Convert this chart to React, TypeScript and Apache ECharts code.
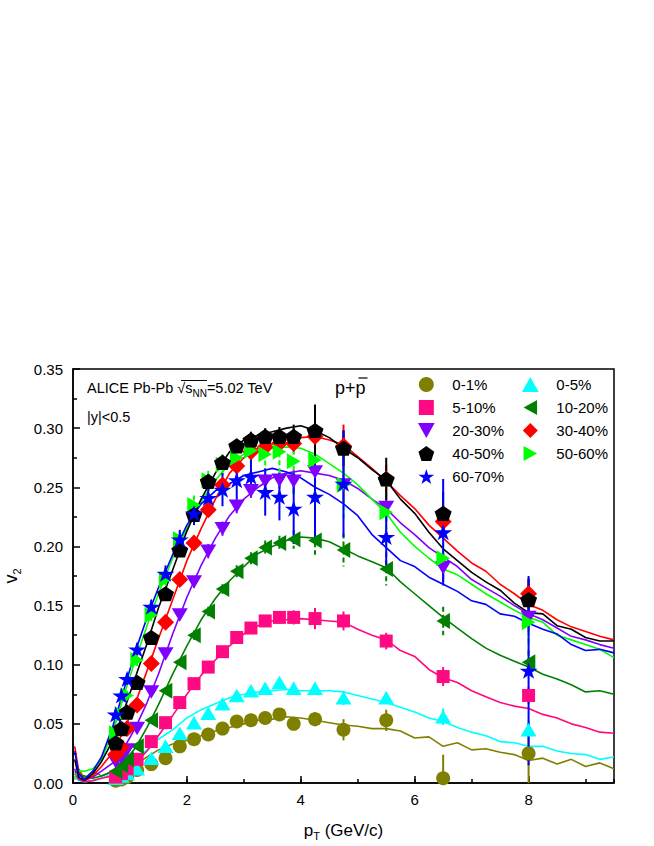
import React, { useEffect, useRef } from "react";
import * as echarts from "echarts";

const FONT = "'Liberation Sans', Arial, sans-serif";

// pT bin centres of the measured points
const BINS = [0.75, 0.85, 0.95, 1.125, 1.375, 1.625, 1.875, 2.125, 2.375, 2.625, 2.875, 3.125, 3.375, 3.625, 3.875, 4.25, 4.75, 5.5, 6.5, 8.0];

// measured v2 values
const V_0_1 = [0.002, 0.003, 0.005, 0.011, 0.016, 0.021, 0.031, 0.037, 0.041, 0.046, 0.052, 0.053, 0.055, 0.058, 0.05, 0.054, 0.045, 0.053, 0.004, 0.025];
const E_0_1 = [0.002, 0.002, 0.002, 0.002, 0.002, 0.002, 0.002, 0.002, 0.002, 0.003, 0.003, 0.003, 0.004, 0.005, 0.005, 0.006, 0.009, 0.009, 0.02, 0.025];
const V_0_5 = [0.004, 0.006, 0.008, 0.012, 0.021, 0.031, 0.042, 0.051, 0.059, 0.067, 0.074, 0.078, 0.08, 0.085, 0.08, 0.08, 0.072, 0.072, 0.056, 0.045];
const E_0_5 = [0.002, 0.002, 0.002, 0.002, 0.002, 0.002, 0.003, 0.003, 0.003, 0.003, 0.003, 0.004, 0.004, 0.004, 0.005, 0.005, 0.006, 0.005, 0.007, 0.008];
const V_5_10 = [0.005, 0.008, 0.012, 0.02, 0.035, 0.051, 0.068, 0.084, 0.098, 0.111, 0.123, 0.131, 0.137, 0.14, 0.14, 0.139, 0.137, 0.12, 0.09, 0.074];
const E_5_10 = [0.002, 0.002, 0.002, 0.002, 0.002, 0.002, 0.003, 0.003, 0.003, 0.003, 0.003, 0.004, 0.004, 0.005, 0.006, 0.009, 0.008, 0.007, 0.008, 0.007];
const V_10_20 = [0.01, 0.015, 0.02, 0.031, 0.053, 0.078, 0.102, 0.125, 0.145, 0.164, 0.179, 0.19, 0.199, 0.203, 0.206, 0.205, 0.197, 0.181, 0.137, 0.102];
const E_10_20 = [0.002, 0.002, 0.002, 0.003, 0.003, 0.003, 0.003, 0.004, 0.004, 0.004, 0.005, 0.005, 0.006, 0.006, 0.008, 0.012, 0.014, 0.014, 0.012, 0.01];
const V_20_30 = [0.018, 0.022, 0.028, 0.046, 0.077, 0.109, 0.142, 0.17, 0.196, 0.215, 0.234, 0.247, 0.255, 0.256, 0.255, 0.263, 0.252, 0.233, 0.182, 0.14];
const E_20_30 = [0.002, 0.002, 0.003, 0.003, 0.003, 0.004, 0.004, 0.005, 0.006, 0.006, 0.006, 0.006, 0.006, 0.007, 0.01, 0.012, 0.015, 0.012, 0.012, 0.012];
const V_30_40 = [0.024, 0.03, 0.046, 0.066, 0.101, 0.136, 0.172, 0.203, 0.231, 0.252, 0.268, 0.28, 0.284, 0.287, 0.287, 0.293, 0.285, 0.257, 0.221, 0.16];
const E_30_40 = [0.002, 0.002, 0.003, 0.003, 0.003, 0.004, 0.004, 0.005, 0.005, 0.005, 0.006, 0.006, 0.006, 0.007, 0.008, 0.01, 0.018, 0.012, 0.012, 0.012];
const V_40_50 = [0.034, 0.046, 0.06, 0.085, 0.123, 0.16, 0.197, 0.227, 0.255, 0.271, 0.285, 0.29, 0.293, 0.293, 0.293, 0.298, 0.283, 0.257, 0.228, 0.155];
const E_40_50 = [0.003, 0.003, 0.003, 0.004, 0.004, 0.004, 0.005, 0.005, 0.006, 0.006, 0.006, 0.007, 0.007, 0.008, 0.01, 0.022, 0.015, 0.018, 0.018, 0.018];
const V_50_60 = [0.042, 0.058, 0.074, 0.104, 0.142, 0.172, 0.206, 0.235, 0.256, 0.269, 0.275, 0.281, 0.278, 0.28, 0.272, 0.273, 0.252, 0.229, 0.19, 0.136];
const E_50_60 = [0.004, 0.004, 0.004, 0.005, 0.005, 0.006, 0.007, 0.008, 0.008, 0.009, 0.01, 0.012, 0.015, 0.02, 0.03, 0.045, 0.03, 0.03, 0.02, 0.02];
const V_60_70 = [0.058, 0.074, 0.088, 0.113, 0.149, 0.177, 0.206, 0.228, 0.241, 0.248, 0.256, 0.259, 0.246, 0.242, 0.232, 0.242, 0.253, 0.208, 0.212, 0.095];
const E_60_70 = [0.004, 0.004, 0.005, 0.005, 0.006, 0.007, 0.008, 0.01, 0.012, 0.014, 0.016, 0.016, 0.02, 0.02, 0.03, 0.035, 0.045, 0.03, 0.045, 0.08];

// model curves
const CURVE_PT = [0.03, 0.1, 0.2, 0.35, 0.5, 0.7, 0.9, 1.1, 1.3, 1.5, 1.75, 2.0, 2.25, 2.5, 2.75, 3.0, 3.25, 3.5, 3.75, 4.0, 4.25, 4.5, 4.75, 5.0, 5.25, 5.5, 5.75, 6.0, 6.25, 6.5, 6.75, 7.0, 7.25, 7.5, 7.75, 8.0, 8.25, 8.5, 8.75, 9.0, 9.25, 9.5];
const M_0_1 = [0.003, 0.012, 0.004, 0.01, 0.006, 0.01, 0.012, 0.016, 0.022, 0.028, 0.033, 0.036, 0.04, 0.044, 0.047, 0.05, 0.053, 0.054, 0.056, 0.055, 0.053, 0.051, 0.049, 0.048, 0.046, 0.046, 0.044, 0.038, 0.039, 0.031, 0.034, 0.028, 0.029, 0.026, 0.024, 0.019, 0.021, 0.016, 0.02, 0.014, 0.017, 0.012];
const M_0_5 = [0.005, 0.002, 0.001, 0.002, 0.004, 0.008, 0.013, 0.02, 0.028, 0.037, 0.045, 0.055, 0.062, 0.067, 0.072, 0.075, 0.077, 0.078, 0.079, 0.078, 0.078, 0.078, 0.077, 0.074, 0.071, 0.068, 0.064, 0.06, 0.055, 0.052, 0.047, 0.043, 0.04, 0.035, 0.034, 0.031, 0.031, 0.027, 0.025, 0.024, 0.02, 0.022];
const M_5_10 = [0.008, 0.003, 0.001, 0.002, 0.004, 0.006, 0.01, 0.017, 0.027, 0.04, 0.057, 0.075, 0.091, 0.104, 0.116, 0.126, 0.133, 0.137, 0.138, 0.139, 0.138, 0.137, 0.136, 0.13, 0.125, 0.121, 0.112, 0.107, 0.096, 0.089, 0.085, 0.078, 0.073, 0.068, 0.065, 0.063, 0.058, 0.055, 0.05, 0.047, 0.043, 0.042];
const M_10_20 = [0.01, 0.006, 0.006, 0.004, 0.006, 0.01, 0.018, 0.03, 0.047, 0.066, 0.092, 0.116, 0.138, 0.156, 0.171, 0.183, 0.194, 0.2, 0.205, 0.208, 0.207, 0.204, 0.198, 0.192, 0.187, 0.182, 0.17, 0.16, 0.15, 0.14, 0.131, 0.122, 0.114, 0.108, 0.103, 0.098, 0.092, 0.088, 0.083, 0.077, 0.078, 0.075];
const M_20_30 = [0.012, 0.004, 0.002, 0.005, 0.01, 0.017, 0.03, 0.047, 0.068, 0.092, 0.126, 0.157, 0.184, 0.207, 0.226, 0.24, 0.25, 0.258, 0.262, 0.264, 0.262, 0.26, 0.256, 0.249, 0.24, 0.232, 0.22, 0.21, 0.199, 0.191, 0.183, 0.172, 0.165, 0.158, 0.15, 0.143, 0.138, 0.131, 0.124, 0.121, 0.117, 0.114];
const M_30_40 = [0.031, 0.01, 0.002, 0.006, 0.014, 0.026, 0.045, 0.068, 0.095, 0.122, 0.155, 0.188, 0.215, 0.24, 0.262, 0.275, 0.283, 0.287, 0.29, 0.292, 0.293, 0.29, 0.286, 0.276, 0.266, 0.255, 0.243, 0.232, 0.218, 0.207, 0.196, 0.186, 0.179, 0.168, 0.16, 0.151, 0.146, 0.138, 0.132, 0.128, 0.124, 0.121];
const M_40_50 = [0.02, 0.005, 0.002, 0.008, 0.018, 0.036, 0.062, 0.09, 0.118, 0.148, 0.18, 0.213, 0.24, 0.262, 0.28, 0.29, 0.294, 0.297, 0.3, 0.302, 0.298, 0.292, 0.283, 0.275, 0.265, 0.256, 0.24, 0.228, 0.212, 0.198, 0.188, 0.178, 0.17, 0.163, 0.152, 0.144, 0.143, 0.133, 0.13, 0.123, 0.12, 0.12];
const M_50_60 = [0.005, 0.01, 0.01, 0.012, 0.02, 0.043, 0.075, 0.105, 0.133, 0.16, 0.19, 0.215, 0.238, 0.256, 0.27, 0.278, 0.281, 0.283, 0.284, 0.283, 0.278, 0.27, 0.262, 0.252, 0.24, 0.228, 0.212, 0.2, 0.19, 0.181, 0.176, 0.168, 0.16, 0.153, 0.146, 0.14, 0.136, 0.125, 0.121, 0.117, 0.113, 0.106];
const M_60_70 = [0.027, 0.008, 0.003, 0.01, 0.022, 0.048, 0.08, 0.112, 0.14, 0.165, 0.193, 0.218, 0.236, 0.247, 0.253, 0.26, 0.263, 0.266, 0.263, 0.258, 0.25, 0.244, 0.236, 0.226, 0.21, 0.199, 0.188, 0.183, 0.174, 0.168, 0.162, 0.154, 0.151, 0.143, 0.141, 0.135, 0.13, 0.126, 0.117, 0.112, 0.113, 0.11];

const CENTRALITY_COL1 = ["0-1%", "5-10%", "20-30%", "40-50%", "60-70%"];
const CENTRALITY_COL2 = ["0-5%", "10-20%", "30-40%", "50-60%"];

const PENTAGON = "path://M50,0 L97.55,34.55 L79.39,90.45 L20.61,90.45 L2.45,34.55 Z";
const STAR = "path://M50,0 L61.23,34.55 L97.55,34.55 L68.17,55.9 L79.39,90.45 L50,69.1 L20.61,90.45 L31.83,55.9 L2.45,34.55 L38.77,34.55 Z";
const TRI_DOWN = "path://M0,0 L100,0 L50,90 Z";
const TRI_LEFT = "path://M0,50 L90,0 L90,100 Z";
const TRI_RIGHT = "path://M0,0 L90,50 L0,100 Z";
const TRI_UP = "path://M50,0 L100,90 L0,90 Z";
const SQUARE = "path://M0,0 L100,0 L100,100 L0,100 Z";
const DIAMOND = "path://M50,0 L100,50 L50,100 L0,50 Z";

type Spec = { name: string; color: string; symbol: string; size: number | number[]; v: number[]; e: number[]; m: number[]; dashed: boolean };

const SPECS: Spec[] = [
  { name: "0-1%", color: "#808000", symbol: "circle", size: 14, v: V_0_1, e: E_0_1, m: M_0_1, dashed: false },
  { name: "0-5%", color: "#00FFFF", symbol: TRI_UP, size: [16, 15], v: V_0_5, e: E_0_5, m: M_0_5, dashed: false },
  { name: "5-10%", color: "#FF0A82", symbol: SQUARE, size: 13, v: V_5_10, e: E_5_10, m: M_5_10, dashed: false },
  { name: "10-20%", color: "#008000", symbol: TRI_LEFT, size: [15, 16], v: V_10_20, e: E_10_20, m: M_10_20, dashed: true },
  { name: "20-30%", color: "#8000FF", symbol: TRI_DOWN, size: [16, 15], v: V_20_30, e: E_20_30, m: M_20_30, dashed: false },
  { name: "30-40%", color: "#FF0000", symbol: DIAMOND, size: 17, v: V_30_40, e: E_30_40, m: M_30_40, dashed: false },
  { name: "50-60%", color: "#00FF00", symbol: TRI_RIGHT, size: [15, 16], v: V_50_60, e: E_50_60, m: M_50_60, dashed: true },
  { name: "40-50%", color: "#000000", symbol: PENTAGON, size: [17, 16], v: V_40_50, e: E_40_50, m: M_40_50, dashed: false },
  { name: "60-70%", color: "#0000FF", symbol: STAR, size: [18, 17], v: V_60_70, e: E_60_70, m: M_60_70, dashed: false },
];

function buildOption() {
  const series: any[] = [];
  SPECS.forEach((s) => {
    series.push({
      name: "model " + s.name,
      type: "line",
      data: CURVE_PT.map((x, i) => [x, s.m[i]]),
      showSymbol: false,
      symbol: "none",
      lineStyle: { color: s.color, width: 1.6 },
      z: 2,
      clip: true,
    });
  });
  SPECS.forEach((s) => {
    series.push({
      name: "err " + s.name,
      type: "custom",
      data: BINS.map((x, i) => [x, s.v[i], s.e[i]]),
      clip: true,
      z: 3,
      renderItem: (params: any, api: any) => {
        const x = api.value(0);
        const y = api.value(1);
        const e = api.value(2);
        const p1 = api.coord([x, y + e]);
        const p2 = api.coord([x, y - e]);
        return {
          type: "line",
          shape: { x1: p1[0], y1: p1[1], x2: p2[0], y2: p2[1] },
          style: { stroke: s.color, lineWidth: 2, lineDash: s.dashed ? [5, 3] : null },
        };
      },
    });
  });
  SPECS.forEach((s) => {
    series.push({
      name: s.name,
      type: "scatter",
      data: BINS.map((x, i) => [x, s.v[i]]),
      symbol: s.symbol,
      symbolSize: s.size,
      symbolKeepAspect: true,
      itemStyle: { color: s.color, opacity: 1 },
      z: 4,
    });
  });

  const legendCommon = {
    orient: "vertical",
    itemWidth: 42,
    itemHeight: 15,
    itemGap: 8,
    selectedMode: false,
    textStyle: { fontSize: 15, color: "#000", fontFamily: FONT },
    padding: 0,
  };

  return {
    animation: false,
    grid: {
      left: 73,
      right: 40,
      top: 369,
      bottom: 63,
      containLabel: false,
      outerBoundsMode: "none",
      show: true,
      borderColor: "#000",
      borderWidth: 1.5,
      backgroundColor: "transparent",
    },
    legend: [
      { ...legendCommon, data: CENTRALITY_COL1, left: 418, top: 377 },
      { ...legendCommon, data: CENTRALITY_COL2, left: 522, top: 377 },
    ],
    xAxis: [
      {
        type: "value",
        min: 0,
        max: 9.5,
        interval: 2,
        axisLine: { lineStyle: { color: "#000", width: 1.5 } },
        axisTick: { inside: true, length: 7, lineStyle: { color: "#000", width: 1.5 } },
        axisLabel: {
          fontSize: 15,
          color: "#000",
          fontFamily: FONT,
          margin: 9,
          showMaxLabel: false,
          formatter: (v: number) => (Math.abs(v % 2) < 1e-9 ? String(v) : ""),
        },
        splitLine: { show: false },
        name: "p{t|T} (GeV/c)",
        nameLocation: "middle",
        nameGap: 36,
        nameTextStyle: {
          fontSize: 17,
          color: "#000",
          fontFamily: FONT,
          lineHeight: 22,
          rich: { t: { fontSize: 11, fontFamily: FONT, color: "#000", lineHeight: 11, verticalAlign: "bottom" } },
        },
      },
      {
        type: "value",
        min: 0,
        max: 9.5,
        interval: 1,
        position: "bottom",
        axisLine: { show: false },
        axisTick: { inside: true, length: 4, lineStyle: { color: "#000", width: 1.5 } },
        axisLabel: { show: false },
        splitLine: { show: false },
      },
    ],
    yAxis: {
      type: "value",
      min: 0,
      max: 0.35,
      interval: 0.05,
      axisLine: { show: true, lineStyle: { color: "#000", width: 1.5 } },
      axisTick: { inside: true, length: 7, lineStyle: { color: "#000", width: 1.5 } },
      minorTick: { show: true, splitNumber: 2, length: 4, lineStyle: { color: "#000", width: 1.5 } },
      axisLabel: { fontSize: 15, color: "#000", fontFamily: FONT, margin: 10, formatter: (v: number) => v.toFixed(2) },
      splitLine: { show: false },
      name: "{v|v}{s|2}",
      nameLocation: "middle",
      nameRotate: 90,
      nameGap: 50,
      nameTextStyle: {
        rich: {
          v: { fontSize: 18, fontFamily: FONT, color: "#000", lineHeight: 24 },
          s: { fontSize: 11, fontFamily: FONT, color: "#000", lineHeight: 11, verticalAlign: "bottom" },
        },
      },
    },
    graphic: [
      {
        type: "text",
        x: 87,
        y: 388,
        style: {
          text: "ALICE Pb-Pb \u221A{s|s}{n|NN}=5.02 TeV",
          font: `14.5px ${FONT}`,
          fill: "#000",
          verticalAlign: "middle",
          lineHeight: 20,
          rich: {
            s: { fontSize: 14.5, fontFamily: FONT, fill: "#000", lineHeight: 20 },
            n: { fontSize: 10, fontFamily: FONT, fill: "#000", lineHeight: 10, verticalAlign: "bottom" },
          },
        },
        z: 10,
      },
      { type: "line", shape: { x1: 181, y1: 380.5, x2: 207, y2: 380.5 }, style: { stroke: "#000", lineWidth: 1 }, z: 10 },
      {
        type: "text",
        x: 87,
        y: 417,
        style: { text: "|y|<0.5", font: `14.5px ${FONT}`, fill: "#000", verticalAlign: "middle" },
        z: 10,
      },
      {
        type: "text",
        x: 335,
        y: 388,
        style: { text: "p+p", font: `18px ${FONT}`, fill: "#000", verticalAlign: "middle" },
        z: 10,
      },
      { type: "line", shape: { x1: 358.5, y1: 378, x2: 367.5, y2: 378 }, style: { stroke: "#000", lineWidth: 1.2 }, z: 10 },
    ],
    series,
  };
}

export default function App() {
  const ref = useRef<HTMLDivElement>(null);
  useEffect(() => {
    document.body.style.margin = "0";
    if (!ref.current) return;
    const chart = echarts.init(ref.current, undefined, { renderer: "svg" });
    chart.setOption(buildOption() as any);
    return () => chart.dispose();
  }, []);
  return <div ref={ref} style={{ width: 654, height: 846, background: "#fff" }} />;
}
